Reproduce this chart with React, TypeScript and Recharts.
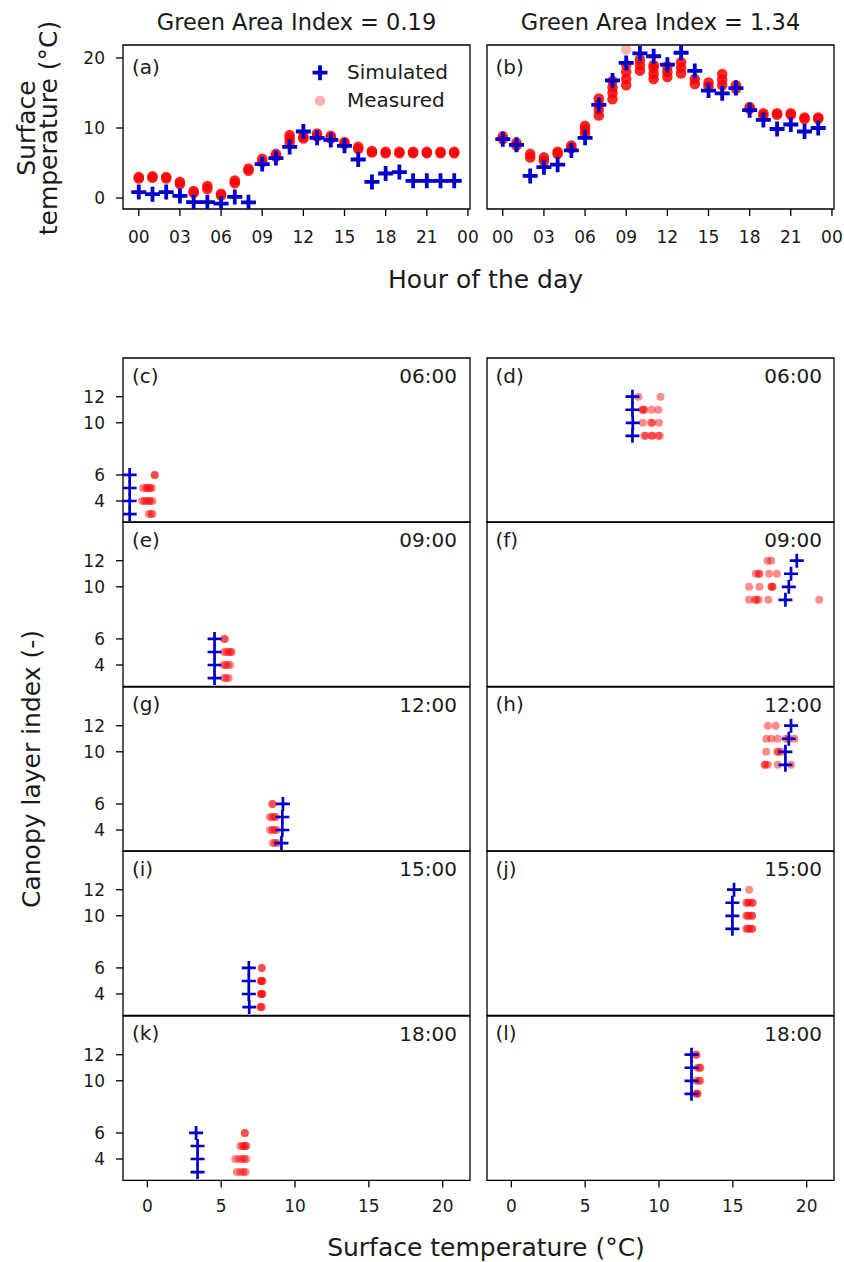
import React from 'react';
import { ScatterChart, Scatter, XAxis, YAxis, ReferenceArea } from 'recharts';

const FONT = '"DejaVu Sans", Verdana, sans-serif';
const BLUE = '#0000CC';
const RED = '#FF0000';
const TXT = '#1a1a1a';

// ---------- top panels (a), (b) ----------
const hours = [0, 1, 2, 3, 4, 5, 6, 7, 8, 9, 10, 11, 12, 13, 14, 15, 16, 17, 18, 19, 20, 21, 22, 23];
const hourTicks = [0, 3, 6, 9, 12, 15, 18, 21, 24];
const topTempTicks = [0, 10, 20];
const topTitles = ['Green Area Index = 0.19', 'Green Area Index = 1.34'];

const simulatedA = [0.85, 0.55, 0.85, 0.3, -0.6, -0.6, -0.8, 0.15, -0.62, 4.85, 5.7, 7.3, 9.5, 8.6, 8.3, 7.45, 5.5, 2.3, 3.5, 3.7, 2.45, 2.45, 2.45, 2.45];
const measuredA = [
  [2.8, 3.0], [2.9, 3.1], [2.8, 3.0], [2.0, 2.3], [0.7, 1.0], [1.3, 1.7], [0.35, 0.6], [2.1, 2.5],
  [3.9, 4.2], [5.1, 5.6], [5.9, 6.3], [7.9, 8.5, 9.0], [8.5, 8.8], [8.8, 9.2], [8.5, 8.9], [7.7, 8.0],
  [7.0, 7.3], [6.5, 6.7], [6.4, 6.6], [6.4, 6.6], [6.4, 6.6], [6.4, 6.6], [6.4, 6.6], [6.4, 6.6],
];
const simulatedB = [8.4, 7.6, 3.15, 4.4, 4.76, 6.8, 8.6, 13.3, 16.8, 19.3, 20.65, 20.25, 19.05, 20.75, 18.15, 15.35, 14.95, 15.7, 12.55, 11.15, 9.86, 10.5, 9.5, 10.0];
const measuredB = [
  [8.4, 8.8], [7.5, 7.9], [5.8, 6.3], [5.3, 5.8], [6.3, 6.6], [7.1, 7.5], [9.2, 9.8, 10.3],
  [11.8, 12.6, 13.4, 14.2], [14.1, 15.0, 15.8, 16.7], [16.1, 17.0, 18.0, 19.0], [18.2, 19.0, 19.8],
  [17.0, 17.8, 18.6, 19.0], [17.3, 18.0, 18.8], [17.8, 18.6, 19.4], [16.3, 17.0], [16.0, 16.5],
  [16.1, 16.9, 17.7], [15.6, 16.1], [12.7, 13.0], [11.8, 12.1], [11.9, 12.1], [11.9, 12.1], [11.3, 11.5], [11.3, 11.5],
];
const faintHoursB = [9];
const faintValuesB = [21.2];

// ---------- bottom panels (c)-(l) ----------
const layersLow = [6, 5, 4, 3];
const layersHigh = [12, 11, 10, 9];
const layerTicks = [4, 6, 10, 12];
const bottomTempTicks = [0, 5, 10, 15, 20];
const panelTimes = ['06:00', '09:00', '12:00', '15:00', '18:00'];
const leftLetters = ['(c)', '(e)', '(g)', '(i)', '(k)'];
const rightLetters = ['(d)', '(f)', '(h)', '(j)', '(l)'];

// simulated temperature per layer (left: layers 6,5,4,3 ; right: layers 12,11,10,9)
const simLeft = [
  [-1.2, -1.2, -1.2, -1.2],
  [4.55, 4.55, 4.55, 4.55],
  [9.18, 9.14, 9.14, 9.08],
  [6.87, 6.87, 6.87, 6.9],
  [3.3, 3.4, 3.4, 3.4],
];
const simRight = [
  [8.2, 8.2, 8.22, 8.2],
  [19.33, 18.94, 18.79, 18.56],
  [18.94, 18.79, 18.56, 18.56],
  [15.08, 14.97, 14.97, 14.97],
  [12.2, 12.2, 12.2, 12.2],
];
// measured temperatures per layer
const measLeft = [
  [[0.5, 0.5], [-0.3, -0.1, 0.0, 0.1, 0.2, 0.3], [-0.35, -0.2, -0.05, 0.1, 0.2, 0.35], [0.1, 0.25, 0.35]],
  [[5.2, 5.25], [5.2, 5.35, 5.5, 5.65, 5.7], [5.15, 5.3, 5.45, 5.6], [5.2, 5.35, 5.5]],
  [[8.45, 8.5], [8.3, 8.45, 8.6, 8.7], [8.3, 8.45, 8.6, 8.75], [8.5, 8.65, 8.8]],
  [[7.75, 7.75], [7.7, 7.7, 7.75, 7.8], [7.7, 7.7, 7.75, 7.8], [7.65, 7.7, 7.75]],
  [[6.6, 6.6], [6.3, 6.45, 6.55, 6.65, 6.7], [5.95, 6.2, 6.4, 6.55, 6.7], [6.05, 6.3, 6.5, 6.65]],
];
const measRight = [
  [[8.6, 10.1], [8.85, 8.95, 9.0, 9.5, 9.95], [8.9, 9.45, 9.55, 10.0], [9.0, 9.1, 9.5, 9.55, 9.95, 10.05]],
  [[17.35, 17.6], [16.55, 16.75, 16.8, 17.45, 17.98], [16.1, 16.8, 17.6, 17.65, 17.7], [16.1, 16.5, 16.6, 16.75, 17.4, 20.85]],
  [[17.37, 17.9], [17.26, 17.6, 18.04, 18.6, 18.8, 19.17], [17.26, 18.0, 18.1, 18.27], [17.15, 17.2, 17.37, 18.04, 18.94]],
  [[16.1], [15.9, 16.0, 16.1, 16.35, 16.3], [15.9, 16.0, 16.1, 16.3, 16.3], [15.9, 16.0, 16.1, 16.3, 16.3]],
  [[12.5, 12.55], [12.6, 12.75, 12.8], [12.5, 12.7, 12.8], [12.5, 12.6, 12.6]],
];

// ---------- layout ----------
const YW = 60;
const MT = 10;
const MR = 10;
const XH = 45;
const PLOT_W = 347;
const COL_X = [123, 487];
const TOP_Y = 45;
const TOP_H = 164;
const ROW0 = 358;
const ROW_H = 164.4;
const TOP_XDOM: [number, number] = [-1.15, 24.15];
const TOP_YDOM: [number, number] = [-1.571, 21.857];
const BOT_XDOM: [number, number] = [-1.65, 21.85];
const BOT_YDOM: [number, number] = [2.36, 14.97];

type Pt = { x: number; y: number };

const crossShape = (arm: number, sw: number) => (props: any) => {
  const { cx, cy } = props;
  if (cx == null || cy == null) return <g />;
  return (
    <path
      d={`M${cx - arm},${cy}H${cx + arm}M${cx},${cy - arm}V${cy + arm}`}
      stroke={BLUE}
      strokeWidth={sw}
      fill="none"
    />
  );
};
const dotShape = (r: number, op: number) => (props: any) => {
  const { cx, cy } = props;
  if (cx == null || cy == null) return <g />;
  return <circle cx={cx} cy={cy} r={r} fill={RED} fillOpacity={op} stroke="none" />;
};

interface PanelProps {
  left: number;
  top: number;
  height: number;
  xDomain: [number, number];
  yDomain: [number, number];
  xTicks: number[];
  yTicks: number[];
  xFmt?: (v: number) => string;
  showXTicks: boolean;
  showYLabels: boolean;
  xTickMargin: number;
  sim: Pt[];
  meas: Pt[];
  faint?: Pt[];
  big: boolean;
}

function Panel(p: PanelProps) {
  const W = YW + PLOT_W + MR;
  const H = MT + p.height + XH;
  const tickStyle = { fontSize: 17, fill: TXT, fontFamily: FONT };
  const lineStyle = { stroke: '#000', strokeWidth: 1.3 };
  return (
    <div style={{ position: 'absolute', left: p.left - YW, top: p.top - MT, width: W, height: H }}>
      <ScatterChart width={W} height={H} margin={{ top: MT, right: MR, bottom: 0, left: 0 }}>
        <XAxis
          type="number"
          dataKey="x"
          domain={p.xDomain}
          ticks={p.xTicks}
          interval={0}
          allowDataOverflow
          tickFormatter={p.xFmt}
          axisLine={false}
          tickLine={p.showXTicks ? lineStyle : false}
          tick={p.showXTicks ? tickStyle : false}
          tickSize={7}
          tickMargin={p.xTickMargin}
          height={XH}
        />
        <YAxis
          type="number"
          dataKey="y"
          domain={p.yDomain}
          ticks={p.yTicks}
          interval={0}
          allowDataOverflow
          axisLine={false}
          tickLine={lineStyle}
          tick={p.showYLabels ? tickStyle : false}
          tickSize={7}
          tickMargin={11}
          width={YW}
        />
        <Scatter data={p.meas} shape={p.big ? dotShape(5.3, 0.85) : dotShape(4, 0.45)} isAnimationActive={false} />
        {p.faint ? <Scatter data={p.faint} shape={dotShape(5.3, 0.3)} isAnimationActive={false} /> : null}
        <Scatter data={p.sim} shape={p.big ? crossShape(7.5, 3.8) : crossShape(7, 2.7)} isAnimationActive={false} />
        <ReferenceArea
          x1={p.xDomain[0]}
          x2={p.xDomain[1]}
          y1={p.yDomain[0]}
          y2={p.yDomain[1]}
          fill="none"
          fillOpacity={0}
          stroke="#000"
          strokeWidth={1.3}
          ifOverflow="visible"
        />
      </ScatterChart>
    </div>
  );
}

const hourFmt = (v: number) => String(v % 24).padStart(2, '0');

const simAPts: Pt[] = hours.map((h, i) => ({ x: h, y: simulatedA[i] }));
const measAPts: Pt[] = hours.flatMap((h, i) => measuredA[i].map((v) => ({ x: h, y: v })));
const simBPts: Pt[] = hours.map((h, i) => ({ x: h, y: simulatedB[i] }));
const measBPts: Pt[] = hours.flatMap((h, i) => measuredB[i].map((v) => ({ x: h, y: v })));
const faintBPts: Pt[] = faintHoursB.map((h, i) => ({ x: h, y: faintValuesB[i] }));

const simPts = (temps: number[], layers: number[]): Pt[] => temps.map((t, i) => ({ x: t, y: layers[i] }));
const measPts = (rows: number[][], layers: number[]): Pt[] =>
  rows.flatMap((r, i) => r.map((t) => ({ x: t, y: layers[i] })));

export default function App() {
  const textBase = { fontFamily: FONT, fill: TXT };
  return (
    <div style={{ position: 'absolute', left: 0, top: 0, width: 844, height: 1262, background: '#fff' }}>
      <Panel
        left={COL_X[0]} top={TOP_Y} height={TOP_H}
        xDomain={TOP_XDOM} yDomain={TOP_YDOM} xTicks={hourTicks} yTicks={topTempTicks}
        xFmt={hourFmt} showXTicks showYLabels xTickMargin={15}
        sim={simAPts} meas={measAPts} big
      />
      <Panel
        left={COL_X[1]} top={TOP_Y} height={TOP_H}
        xDomain={TOP_XDOM} yDomain={TOP_YDOM} xTicks={hourTicks} yTicks={topTempTicks}
        xFmt={hourFmt} showXTicks showYLabels={false} xTickMargin={15}
        sim={simBPts} meas={measBPts} faint={faintBPts} big
      />
      {panelTimes.map((t, r) => (
        <React.Fragment key={t}>
          <Panel
            left={COL_X[0]} top={ROW0 + r * ROW_H} height={ROW_H}
            xDomain={BOT_XDOM} yDomain={BOT_YDOM} xTicks={bottomTempTicks} yTicks={layerTicks}
            showXTicks={r === panelTimes.length - 1} showYLabels xTickMargin={13}
            sim={simPts(simLeft[r], layersLow)} meas={measPts(measLeft[r], layersLow)} big={false}
          />
          <Panel
            left={COL_X[1]} top={ROW0 + r * ROW_H} height={ROW_H}
            xDomain={BOT_XDOM} yDomain={BOT_YDOM} xTicks={bottomTempTicks} yTicks={layerTicks}
            showXTicks={r === panelTimes.length - 1} showYLabels={false} xTickMargin={13}
            sim={simPts(simRight[r], layersHigh)} meas={measPts(measRight[r], layersHigh)} big={false}
          />
        </React.Fragment>
      ))}
      <svg width={844} height={1262} style={{ position: 'absolute', left: 0, top: 0, pointerEvents: 'none' }}>
        <text x={296.5} y={30} textAnchor="middle" fontSize={22.5} {...textBase}>{topTitles[0]}</text>
        <text x={660.5} y={30} textAnchor="middle" fontSize={22.5} {...textBase}>{topTitles[1]}</text>
        <text transform="translate(35,128) rotate(-90)" textAnchor="middle" fontSize={25} {...textBase}>Surface</text>
        <text transform="translate(57,128) rotate(-90)" textAnchor="middle" fontSize={25} {...textBase}>temperature (°C)</text>
        <text x={485.5} y={288} textAnchor="middle" fontSize={25} {...textBase}>Hour of the day</text>
        <text transform="translate(40,769) rotate(-90)" textAnchor="middle" fontSize={25} {...textBase}>Canopy layer index (-)</text>
        <text x={486} y={1256} textAnchor="middle" fontSize={25} {...textBase}>Surface temperature (°C)</text>

        {/* legend */}
        <path d="M312.5,72.7H327.5M320,65.2V80.2" stroke={BLUE} strokeWidth={3.8} fill="none" />
        <text x={347} y={78.5} fontSize={20} {...textBase}>Simulated</text>
        <circle cx={320} cy={100.7} r={5.3} fill={RED} fillOpacity={0.3} />
        <text x={347} y={106.5} fontSize={20} {...textBase}>Measured</text>

        <text x={132} y={73.5} fontSize={20} {...textBase}>(a)</text>
        <text x={495.5} y={73.5} fontSize={20} {...textBase}>(b)</text>
        {panelTimes.map((t, r) => {
          const top = ROW0 + r * ROW_H;
          return (
            <React.Fragment key={'lab' + t}>
              <text x={132} y={top + 24.5} fontSize={20} {...textBase}>{leftLetters[r]}</text>
              <text x={457} y={top + 25} fontSize={20} textAnchor="end" {...textBase}>{t}</text>
              <text x={495.5} y={top + 24.5} fontSize={20} {...textBase}>{rightLetters[r]}</text>
              <text x={822} y={top + 25} fontSize={20} textAnchor="end" {...textBase}>{t}</text>
            </React.Fragment>
          );
        })}
      </svg>
    </div>
  );
}
